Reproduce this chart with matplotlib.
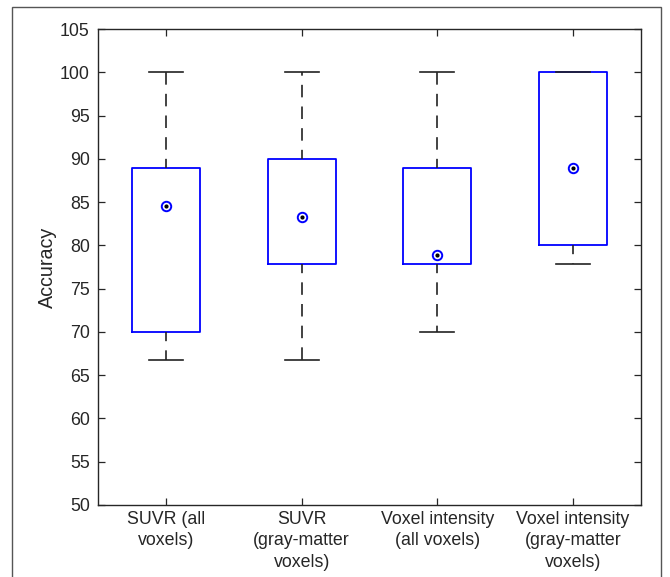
import numpy as np
import matplotlib
matplotlib.use("Agg")
import matplotlib.pyplot as plt
from matplotlib.patches import Rectangle

plt.rcParams['font.family'] = ['Liberation Sans', 'DejaVu Sans']

#--------------------------------------
labels   = ["SUVR (all\nvoxels)", "SUVR\n(gray-matter\nvoxels)",
            "Voxel intensity\n(all voxels)", "Voxel intensity\n(gray-matter\nvoxels)"]
medians  = [84.5, 83.3, 78.9, 88.9]
q1       = [70.0, 77.8, 77.8, 80.0]
q3       = [88.9, 90.0, 88.9, 100.0]
whislo   = [66.7, 66.7, 70.0, 77.8]
whishi   = [100.0, 100.0, 100.0, 100.0]
#--------------------------------------

stats = []
for i in range(len(labels)):
    stats.append(dict(med=medians[i], q1=q1[i], q3=q3[i],
                      whislo=whislo[i], whishi=whishi[i], fliers=[], label=labels[i]))

fig = plt.figure(figsize=(6.7, 5.77), dpi=100)
ax  = fig.add_axes([0.1463, 0.1248, 0.8104, 0.8249])

axcol = '#262626'
pos   = np.arange(1, len(labels)+1)
bp = ax.bxp(stats, positions=pos, widths=0.5, showfliers=False,
            boxprops=dict(color='blue', linewidth=1.3),
            whiskerprops=dict(color='#222222', linewidth=1.2, linestyle=(2, (7.5, 5.5))),
            capprops=dict(color='#222222', linewidth=1.2),
            medianprops=dict(linestyle='none'),
            capwidths=0.25)

# median "target" markers
ax.plot(pos, medians, 'o', mfc='white', mec='blue', ms=6.8, mew=1.4, zorder=5)
ax.plot(pos, medians, 'o', color='black', ms=2.0, zorder=6)

ax.set_xlim(0.5, 4.5)
ax.set_ylim(50, 105)
ax.set_yticks(np.arange(50, 106, 5))
ax.set_xticks(pos)
ax.set_xticklabels(labels, linespacing=1.35)
ax.tick_params(direction='in', length=5, width=0.9, colors=axcol, labelsize=12.8,
               top=True, right=True, labelcolor='#262626')
ax.tick_params(axis='x', pad=4)
ax.tick_params(axis='y', pad=6)
for s in ax.spines.values():
    s.set_color(axcol)
    s.set_linewidth(1.0)
ax.set_ylabel("Accuracy", fontsize=14.2, color='#262626', labelpad=2)

# outer frame
fig.patches.append(Rectangle((12/670, -0.05), (661-12)/670, 1.05 - 7/577,
                             transform=fig.transFigure, fill=False,
                             edgecolor='#555555', linewidth=1.0, clip_on=False))

fig.savefig("out.png", dpi=100)
